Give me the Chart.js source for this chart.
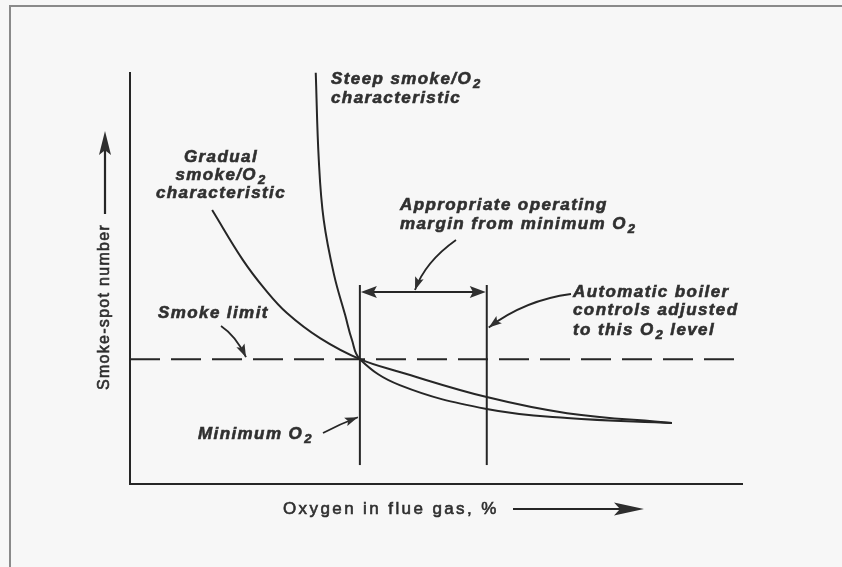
<!DOCTYPE html>
<html>
<head>
<meta charset="utf-8">
<script src="https://cdn.jsdelivr.net/npm/chart.js@4.4.1/dist/chart.umd.min.js"></script>
<style>
  html, body { margin: 0; padding: 0; background: #f7f7f7; }
  #wrap { position: relative; width: 842px; height: 567px; }
</style>
</head>
<body>
<div id="wrap"><canvas id="chartCanvas" width="842" height="567"></canvas></div>
<script>
// oxygen in flue gas (x) vs smoke-spot number (y), schematic units 0..10
const steepO2 = [3.03, 3.08, 3.16, 3.33, 3.51, 3.62, 3.75, 4.40, 5.82, 7.13, 8.84]
const steepSmoke = [9.98, 7.86, 6.41, 5.07, 4.10, 3.50, 3.03, 2.40, 1.82, 1.60, 1.48]
const gradualO2 = [1.34, 1.84, 2.20, 2.56, 3.10, 3.75, 4.40, 5.82, 7.13, 8.84]
const gradualSmoke = [6.65, 5.44, 4.73, 4.15, 3.54, 3.03, 2.72, 2.11, 1.72, 1.48]
const smokeLimit = 3.03
const minimumO2 = 3.75
const controlO2 = 5.82
const markerSpan = [0.46, 4.83]
const marginLevel = 4.66
const axisRange = [0, 10]

const ink = '#262626'
const zip = (xs, ys) => xs.map((v, i) => ({ x: v, y: ys[i] }))

function font(size, emph) {
  return (emph ? 'italic bold ' : '') + size + 'px "Liberation Sans", Arial, sans-serif'
}

// text with "O2" drawn as O plus subscript 2
function textWidth(ctx, text, size, emph) {
  const parts = text.split('O2')
  let w = 0
  parts.forEach((p, i) => {
    ctx.font = font(size, emph)
    w += ctx.measureText(p).width
    if (i < parts.length - 1) {
      w += ctx.measureText('O').width + 1
      ctx.font = font(Math.round(size * 0.75), emph)
      w += ctx.measureText('2').width
    }
  })
  return w
}

function put(ctx, s, px, py) {
  ctx.fillText(s, px, py)
  ctx.strokeText(s, px, py)
}

function label(ctx, text, px, py, size, emph, align) {
  const parts = text.split('O2')
  let cx = align === 'center' ? px - textWidth(ctx, text, size, emph) / 2 : px
  ctx.save()
  ctx.textAlign = 'left'
  ctx.textBaseline = 'middle'
  ctx.strokeStyle = ctx.fillStyle
  ctx.lineWidth = 0.6
  parts.forEach((p, i) => {
    ctx.font = font(size, emph)
    put(ctx, p, cx, py)
    cx += ctx.measureText(p).width
    if (i < parts.length - 1) {
      put(ctx, 'O', cx, py)
      cx += ctx.measureText('O').width + 1
      ctx.font = font(Math.round(size * 0.75), emph)
      put(ctx, '2', cx, py + size * 0.3)
      cx += ctx.measureText('2').width
    }
  })
  ctx.restore()
}

function head(ctx, tx, ty, angle, len, wid) {
  ctx.save()
  ctx.translate(tx, ty)
  ctx.rotate(angle)
  ctx.beginPath()
  ctx.moveTo(0, 0)
  ctx.lineTo(-len, -wid / 2)
  ctx.lineTo(-len * 0.8, 0)
  ctx.lineTo(-len, wid / 2)
  ctx.closePath()
  ctx.fill()
  ctx.restore()
}

// curved pointer from (x0,y0) via control (cx,cy) to tip (x1,y1)
function pointer(ctx, x0, y0, cx, cy, x1, y1) {
  ctx.beginPath()
  ctx.moveTo(x0, y0)
  ctx.quadraticCurveTo(cx, cy, x1, y1)
  ctx.stroke()
  head(ctx, x1, y1, Math.atan2(y1 - cy, x1 - cx), 13, 9)
}

const frameAndAxes = {
  id: 'frameAndAxes',
  beforeDraw(chart) {
    const { ctx, chartArea: a } = chart
    ctx.save()
    ctx.strokeStyle = '#8a8a8a'
    ctx.lineWidth = 2
    ctx.strokeRect(10, 6, 900, 700)
    ctx.strokeStyle = ink
    ctx.lineWidth = 2
    ctx.beginPath()
    ctx.moveTo(a.left, a.top)
    ctx.lineTo(a.left, a.bottom)
    ctx.lineTo(a.right, a.bottom)
    ctx.stroke()
    ctx.restore()
  },
  afterDatasetsDraw(chart) {
    const { ctx, scales: { x, y } } = chart
    ctx.save()
    ctx.fillStyle = '#303030'
    ctx.strokeStyle = ink
    ctx.lineWidth = 1.8
    try { ctx.letterSpacing = '1.4px' } catch (e) {}

    // annotations
    label(ctx, 'Steep smoke/O2', 331, 79, 17, true)
    label(ctx, 'characteristic', 331, 98, 17, true)
    label(ctx, 'Gradual', 221, 157, 17, true, 'center')
    label(ctx, 'smoke/O2', 221, 175, 17, true, 'center')
    label(ctx, 'characteristic', 221, 193, 17, true, 'center')
    label(ctx, 'Appropriate operating', 400, 205, 17, true)
    label(ctx, 'margin from minimum O2', 400, 224, 17, true)
    label(ctx, 'Automatic boiler', 573, 292, 17, true)
    label(ctx, 'controls adjusted', 573, 310, 17, true)
    label(ctx, 'to this O2 level', 573, 330, 17, true)
    label(ctx, 'Smoke limit', 158, 313, 17, true)
    label(ctx, 'Minimum O2', 198, 434, 17, true)

    // operating margin bar with arrowheads
    ctx.strokeStyle = ink
    ctx.lineWidth = 1.8
    const xa = x.getPixelForValue(minimumO2), xb = x.getPixelForValue(controlO2)
    const ym = y.getPixelForValue(marginLevel)
    ctx.beginPath()
    ctx.moveTo(xa + 4, ym)
    ctx.lineTo(xb - 4, ym)
    ctx.stroke()
    head(ctx, xa + 1, ym, Math.PI, 16, 12)
    head(ctx, xb - 1, ym, 0, 16, 12)

    // pointers
    const ys = y.getPixelForValue(smokeLimit)
    pointer(ctx, 221, 326, 236, 336, 246, ys - 2)
    pointer(ctx, 323, 433, 340, 424, xa - 2, y.getPixelForValue(1.62))
    pointer(ctx, 456, 240, 425, 262, 415, ym - 2)
    pointer(ctx, 571, 294, 525, 300, xb + 2, y.getPixelForValue(3.8))

    // axis titles with arrows
    try { ctx.letterSpacing = '2.4px' } catch (e) {}
    ctx.fillStyle = '#2e2e2e'
    label(ctx, 'Oxygen in flue gas, %', 283, 509, 17, false)
    ctx.lineWidth = 2.2
    ctx.beginPath()
    ctx.moveTo(513, 509)
    ctx.lineTo(625, 509)
    ctx.stroke()
    head(ctx, 644, 509, 0, 30, 13)

    try { ctx.letterSpacing = '1.3px' } catch (e) {}
    ctx.save()
    ctx.translate(105, 307)
    ctx.rotate(-Math.PI / 2)
    label(ctx, 'Smoke-spot number', 0, 0, 16, false, 'center')
    ctx.restore()
    ctx.beginPath()
    ctx.moveTo(105, 214)
    ctx.lineTo(105, 150)
    ctx.stroke()
    head(ctx, 105, 131, -Math.PI / 2, 24, 12)
    ctx.restore()
  }
}

const curveStyle = { showLine: true, pointRadius: 0, borderColor: ink, borderWidth: 2, tension: 0.4, fill: false }
const ruleStyle = { showLine: true, pointRadius: 0, borderColor: ink, borderWidth: 2, tension: 0, fill: false }

const chartCanvas = document.getElementById('chartCanvas')
let chart = new Chart(chartCanvas, {
  type: 'scatter',
  data: {
    datasets: [
      { label: 'Steep smoke/O2 characteristic', data: zip(steepO2, steepSmoke), ...curveStyle },
      { label: 'Gradual smoke/O2 characteristic', data: zip(gradualO2, gradualSmoke), ...curveStyle },
      { label: 'Smoke limit', data: [{ x: axisRange[0], y: smokeLimit }, { x: axisRange[1], y: smokeLimit }], ...ruleStyle, borderDash: [30, 11] },
      { label: 'Minimum O2', data: markerSpan.map(v => ({ x: minimumO2, y: v })), ...ruleStyle },
      { label: 'Control O2', data: markerSpan.map(v => ({ x: controlO2, y: v })), ...ruleStyle }
    ]
  },
  options: {
    responsive: false,
    animation: false,
    layout: { padding: { left: 130, right: 99, top: 72, bottom: 83 } },
    plugins: { legend: { display: false }, tooltip: { enabled: false } },
    scales: {
      x: { type: 'linear', min: axisRange[0], max: axisRange[1], display: false },
      y: { type: 'linear', min: axisRange[0], max: axisRange[1], display: false }
    }
  },
  plugins: [frameAndAxes]
})
</script>
</body>
</html>
